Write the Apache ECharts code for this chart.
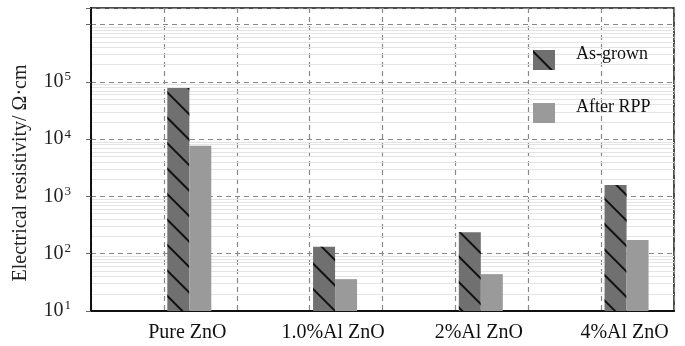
<!DOCTYPE html>
<html>
<head>
<meta charset="utf-8">
<script src="https://cdn.jsdelivr.net/npm/echarts@6/dist/echarts.min.js"></script>
<style>
html,body{margin:0;padding:0;background:#fff;}
#chart{width:685px;height:346px;}
</style>
</head>
<body>
<div id="chart"></div>
<script>
// ---- data ----
const categories = ['Pure ZnO', '1.0%Al ZnO', '2%Al ZnO', '4%Al ZnO'];
const asGrown = [78000, 133, 238, 1590];
const afterRPP = [7700, 36, 44, 174];
const seriesNames = ['As-grown', 'After RPP'];
const yTickExponents = [1, 2, 3, 4, 5];
const minorMultipliers = [2, 3, 4, 5, 6, 7, 8, 9];
const minorDecades = [10, 100, 1000, 10000, 100000, 1000000];

// Each category sits in every second slot of an 8-slot axis
const slots = [];
const asGrownSlots = [];
const afterSlots = [];
categories.forEach((c, i) => {
  slots.push('', c);
  asGrownSlots.push('-', asGrown[i]);
  afterSlots.push('-', afterRPP[i]);
});

const minorGridValues = [];
minorDecades.forEach(d => minorMultipliers.forEach(m => {
  if (d * m < 1.95e6) minorGridValues.push(d * m);
}));

const serif = '"Liberation Serif", "DejaVu Serif", serif';
const chart = echarts.init(document.getElementById('chart'), null, {renderer: 'canvas'});

chart.setOption({
  backgroundColor: '#fff',
  animation: false,
  grid: {left: 91, right: 11, top: 8, bottom: 35, show: true, borderColor: '#111', borderWidth: 1.5, backgroundColor: 'transparent'},
  legend: {
    data: seriesNames,
    orient: 'vertical',
    left: 528,
    top: 40,
    icon: 'rect',
    itemWidth: 22,
    itemHeight: 20,
    itemGap: 28,
    selectedMode: false,
    formatter: '{t|{name}}',
    textStyle: {
      fontFamily: serif, fontSize: 18, color: '#111',
      rich: {t: {fontFamily: serif, fontSize: 18, color: '#111', padding: [0, 0, 12, 16]}}
    }
  },
  graphic: [{
    type: 'text',
    x: 21,
    y: 173,
    rotation: Math.PI / 2,
    style: {
      text: 'Electrical resistivity/ Ω·cm',
      font: '20px ' + serif,
      fill: '#222',
      align: 'center',
      verticalAlign: 'middle'
    }
  }],
  xAxis: {
    type: 'category',
    data: slots,
    boundaryGap: true,
    axisLine: {lineStyle: {color: '#111', width: 2}},
    axisTick: {show: false},
    axisLabel: {
      interval: 0,
      margin: 12,
      fontFamily: serif,
      fontSize: 20,
      color: '#111',
      padding: [0, 26, 0, 0]
    },
    splitLine: {show: true, interval: 0, lineStyle: {color: '#888', type: [5, 4], width: 1.2}}
  },
  yAxis: {
    type: 'log',
    logBase: 10,
    min: 10,
    max: 1.95e6,
    axisLine: {show: true, lineStyle: {color: '#111', width: 2}},
    axisTick: {show: true, length: 5, lineStyle: {color: '#666'}},
    axisLabel: {
      margin: 20,
      color: '#222',
      formatter: function (v) {
        const e = Math.round(Math.log10(v));
        if (Math.abs(v - Math.pow(10, e)) > 1e-6 * v) return '';
        if (yTickExponents.indexOf(e) < 0) return '';
        return '{b|10}{s|' + e + '}';
      },
      rich: {
        b: {fontFamily: serif, fontSize: 20, color: '#222'},
        s: {fontFamily: serif, fontSize: 13, color: '#222', padding: [0, 0, 10, 1]}
      }
    },
    splitLine: {show: true, lineStyle: {color: '#888', type: [5, 4], width: 1.2}}
  },
  series: [
    {
      name: 'minor',
      type: 'line',
      data: [],
      z: 0,
      silent: true,
      markLine: {
        silent: true,
        z: 0,
        symbol: ['none', 'none'],
        label: {show: false},
        lineStyle: {color: '#e4e4e4', type: 'solid', width: 1},
        data: minorGridValues.map(v => ({yAxis: v}))
      }
    },
    {
      name: seriesNames[0],
      type: 'bar',
      data: asGrownSlots,
      barWidth: 22,
      barGap: '0%',
      z: 3,
      itemStyle: {
        color: '#707070',
        decal: {
          symbol: 'rect',
          symbolSize: 1,
          dashArrayX: [1, 0],
          dashArrayY: [2, 16],
          rotation: Math.PI / 4,
          color: '#111'
        }
      }
    },
    {
      name: seriesNames[1],
      type: 'bar',
      data: afterSlots,
      barWidth: 22,
      barGap: '0%',
      z: 3,
      itemStyle: {color: '#9a9a9a'}
    },
    {
      name: 'spacer',
      type: 'bar',
      data: slots.map(() => '-'),
      barWidth: 22,
      barGap: '0%',
      silent: true,
      itemStyle: {color: 'transparent'}
    }
  ]
});
</script>
</body>
</html>
